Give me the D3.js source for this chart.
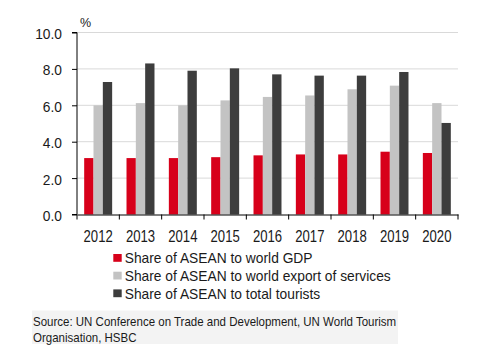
<!DOCTYPE html>
<html><head><meta charset="utf-8">
<script src="https://cdn.jsdelivr.net/npm/d3@7"></script>
<style>
body{margin:0;background:#fff;}
text{font-family:"Liberation Sans",Arial,sans-serif;fill:#1a1a1a;}
</style></head>
<body><svg id="c" width="479" height="357"></svg>
<script>
const years = ["2012","2013","2014","2015","2016","2017","2018","2019","2020"];
const gdpShare = [3.1,3.1,3.1,3.15,3.25,3.3,3.3,3.45,3.38];
const servicesShare = [6.0,6.12,6.0,6.27,6.46,6.54,6.88,7.08,6.12];
const touristShare = [7.28,8.3,7.9,8.03,7.7,7.63,7.63,7.83,5.03];
const seriesNames = ["Share of ASEAN to world GDP","Share of ASEAN to world export of services","Share of ASEAN to total tourists"];
const seriesColors = ["#d7001a","#c3c3c3","#3d3d3d"];
const yTicks = [0,2,4,6,8,10];
const sourceLines = ["Source: UN Conference on Trade and Development, UN World Tourism","Organisation, HSBC"];

const series = [gdpShare, servicesShare, touristShare];
const svg = d3.select("#c");
const m = {l:77, r:458, t:32.5, b:214.5};
const x = d3.scaleBand().domain(years).range([m.l, m.r]).paddingInner(0).paddingOuter(0);
const x1 = d3.scaleBand().domain([0,1,2]).range([0, x.bandwidth()]).paddingOuter(0.77).paddingInner(0);
const y = d3.scaleLinear().domain([0,10]).range([m.b, m.t]);

// gridlines
svg.append("g").selectAll("line").data(yTicks.filter(d=>d>0)).join("line")
  .attr("x1", m.l).attr("x2", m.r).attr("y1", d=>y(d)).attr("y2", d=>y(d))
  .attr("stroke", "#d9d9d9").attr("stroke-width", 1);

// bars
const g = svg.append("g").selectAll("g").data(years).join("g")
  .attr("transform", d=>`translate(${x(d)},0)`);
g.selectAll("rect").data((d,i)=>series.map((s,k)=>({k, v:s[i]}))).join("rect")
  .attr("x", d=>x1(d.k)).attr("width", x1.bandwidth())
  .attr("y", d=>y(d.v)).attr("height", d=>y(0)-y(d.v))
  .attr("fill", d=>seriesColors[d.k]);

// y axis
const ya = svg.append("g").attr("transform", `translate(${m.l},0)`)
  .call(d3.axisLeft(y).tickValues(yTicks).tickFormat(d3.format(".1f")).tickSize(5));
ya.select(".domain").attr("stroke","#000").attr("d", `M-5,${y(10)}H0V${y(0)}H-5`);
ya.selectAll(".tick line").attr("stroke","#000");
ya.selectAll("text").attr("font-size", 14.5).attr("fill","#1a1a1a")
  .attr("font-family","Liberation Sans, Arial, sans-serif")
  .attr("x", 0).attr("dy", null).attr("y", 0)
  .attr("transform", "translate(-15,6) scale(0.95,1)");

// x axis
const xa = svg.append("g").attr("transform", `translate(0,${m.b})`)
  .call(d3.axisBottom(x).tickSize(0));
xa.select(".domain").attr("stroke","#000");
xa.selectAll("text").attr("font-size", 16).attr("fill","#1a1a1a")
  .attr("font-family","Liberation Sans, Arial, sans-serif")
  .attr("y", 0).attr("dy", null)
  .attr("transform", "translate(0,27.8) scale(0.82,1)");
// boundary ticks between categories
svg.append("g").selectAll("line").data(years.concat(["end"])).join("line")
  .attr("x1", (d,i)=> i<years.length ? x(d) : m.r).attr("x2", (d,i)=> i<years.length ? x(d) : m.r)
  .attr("y1", m.b).attr("y2", m.b+5).attr("stroke","#000");

// % label
svg.append("text").attr("x", 80).attr("y", 27).attr("font-size", 12.5).text("%");

// legend
const lg = svg.append("g").selectAll("g").data(seriesNames).join("g")
  .attr("transform", (d,i)=>`translate(113.3,${263.3 + i*17.7})`);
lg.append("rect").attr("x",0).attr("y",-9.3).attr("width",8.4).attr("height",7.8).attr("fill",(d,i)=>seriesColors[i]);
lg.append("text").attr("transform","translate(11.4,0) scale(0.92,1)").attr("font-size",15).text(d=>d);

// source
svg.append("rect").attr("x",32).attr("y",310.5).attr("width",366).attr("height",33.5).attr("fill","#f3f3f3");
svg.append("g").selectAll("text").data(sourceLines).join("text")
  .attr("transform",(d,i)=>`translate(33,${326 + i*15.7}) scale(0.885,1)`)
  .attr("font-size",13).text(d=>d);
</script></body></html>
